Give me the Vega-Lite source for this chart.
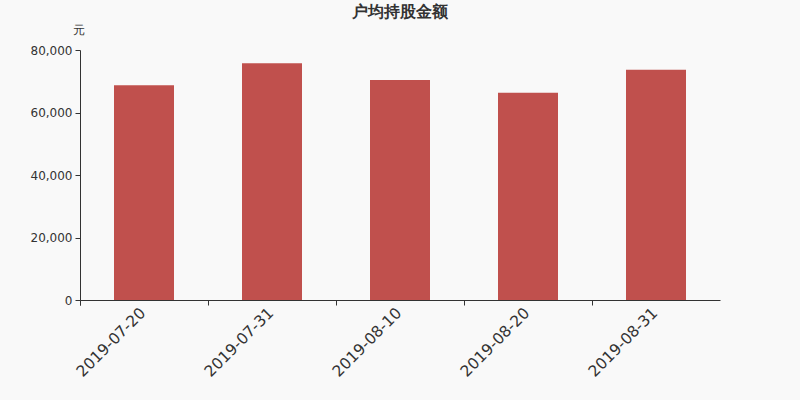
{
  "$schema": "https://vega.github.io/schema/vega-lite/v6.json",
  "description": "户均持股金额 bar chart by report date.",
  "width": 640,
  "height": 250,
  "autosize": {"type": "none"},
  "padding": {"left": 80, "top": 50, "right": 80, "bottom": 100},
  "background": "#f9f9f9",
  "title": {
    "text": "户均持股金额",
    "fontSize": 16,
    "fontWeight": "bold",
    "font": "DejaVu Sans",
    "color": "#333333",
    "anchor": "middle",
    "frame": "group",
    "offset": 3
  },
  "data": {
    "values": [
      {"date": "2019-07-20", "amount": 68700},
      {"date": "2019-07-31", "amount": 75800},
      {"date": "2019-08-10", "amount": 70400},
      {"date": "2019-08-20", "amount": 66300},
      {"date": "2019-08-31", "amount": 73700}
    ]
  },
  "mark": {"type": "bar", "width": 60, "color": "#c0504d"},
  "encoding": {
    "x": {
      "field": "date",
      "type": "nominal",
      "sort": null,
      "scale": {"paddingInner": 0, "paddingOuter": 0},
      "axis": {
        "title": null,
        "labelAngle": -45,
        "labelFontSize": 15.5,
        "labelFont": "DejaVu Sans",
        "labelColor": "#333333",
        "labelPadding": 0,
        "labelOffset": -6,
        "bandPosition": 0,
        "tickExtra": true,
        "tickSize": 5,
        "tickColor": "#333333",
        "domainColor": "#333333"
      }
    },
    "y": {
      "field": "amount",
      "type": "quantitative",
      "scale": {"domain": [0, 80000]},
      "axis": {
        "title": "元",
        "titleAngle": 0,
        "titleFontSize": 12,
        "titleFont": "DejaVu Sans",
        "titleFontWeight": "normal",
        "titleColor": "#333333",
        "titleAlign": "center",
        "titleBaseline": "middle",
        "titleX": -2,
        "titleY": -21,
        "values": [0, 20000, 40000, 60000, 80000],
        "format": ",.0f",
        "grid": false,
        "labelFontSize": 12,
        "labelFont": "DejaVu Sans",
        "labelColor": "#333333",
        "labelPadding": 3,
        "tickSize": 5,
        "tickColor": "#333333",
        "domainColor": "#333333"
      }
    }
  },
  "config": {"view": {"stroke": null}}
}
